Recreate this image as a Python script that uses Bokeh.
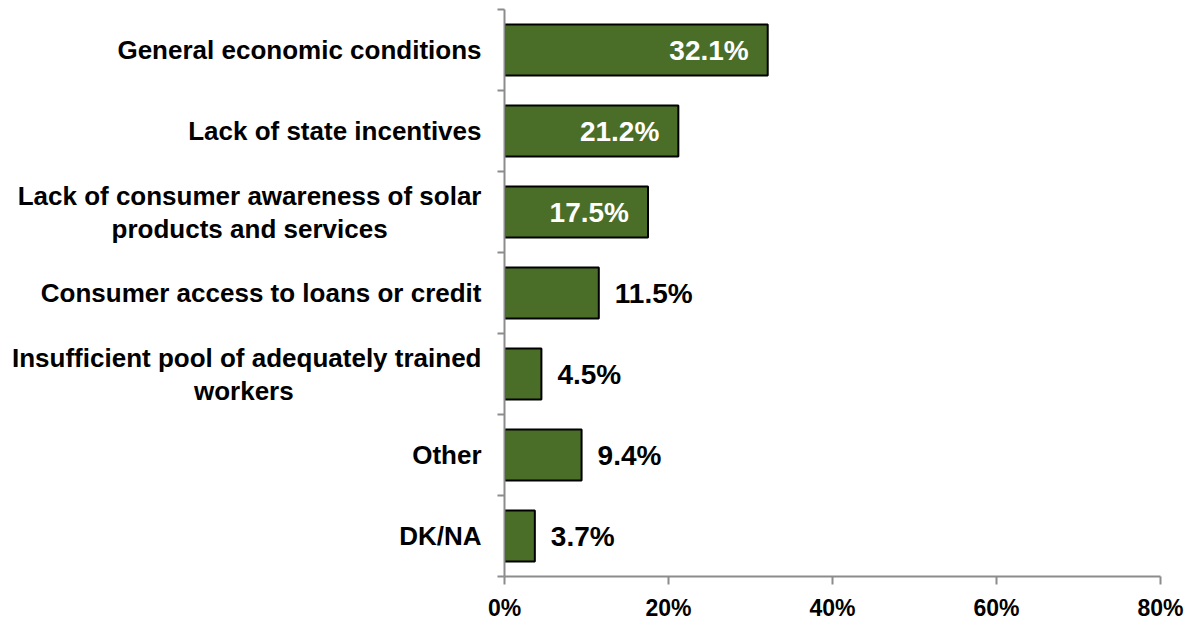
from bokeh.plotting import figure
from bokeh.models import ColumnDataSource, Range1d, FixedTicker, NumeralTickFormatter
from bokeh.core.properties import value
from bokeh.embed import file_html
from bokeh.resources import INLINE

categories = [
    "General economic conditions",
    "Lack of state incentives",
    "Lack of consumer awareness of solar\nproducts and services",
    "Consumer access to loans or credit",
    "Insufficient pool of adequately trained\nworkers",
    "Other",
    "DK/NA",
]
values = [32.1, 21.2, 17.5, 11.5, 4.5, 9.4, 3.7]
x_ticks = [0, 20, 40, 60, 80]

n = len(categories)
ypos = [n - 0.5 - i for i in range(n)]
labels = [f"{v:.1f}%" for v in values]
inside = [v > 15 for v in values]

# approximate advance widths (1/1000 em) of a bold Helvetica-metric font
_W = dict(zip("abcdefghijklmnopqrstuvwxyz",
              [556, 611, 556, 611, 556, 333, 611, 611, 278, 278, 556, 278, 889,
               611, 611, 611, 611, 389, 556, 333, 611, 556, 778, 556, 556, 500]))
_W.update({" ": 278, "L": 611, "I": 278})


def _width(s):
    return sum(_W.get(ch, 722) for ch in s)


def centered(label):
    # Bokeh right-aligns the lines of a left-axis label; pad shorter lines
    # with no-break spaces so that they appear centred under the longest one.
    lines = label.split("\n")
    if len(lines) == 1:
        return label
    longest = max(_width(s) for s in lines)
    return "\n".join(s + "\u00a0" * round((longest - _width(s)) / 2 / 278) for s in lines)


FONT = "Liberation Sans"
GRAY = "#8c8c8c"
GREEN = "#4a6e27"

p = figure(width=1188, height=623, output_backend="svg", toolbar_location=None,
           x_range=Range1d(0, 80), y_range=Range1d(0, n),
           min_border_left=504, min_border_right=28, min_border_top=9, min_border_bottom=45)
p.outline_line_color = None
p.xgrid.grid_line_color = None
p.ygrid.grid_line_color = None

src = ColumnDataSource(dict(y=ypos, v=values, lab=labels))
p.hbar(y="y", left=0, right="v", height=0.63, source=src,
       fill_color=GREEN, line_color="black", line_width=2)

src_in = ColumnDataSource(dict(y=[y for y, k in zip(ypos, inside) if k],
                               v=[v for v, k in zip(values, inside) if k],
                               lab=[l for l, k in zip(labels, inside) if k]))
src_out = ColumnDataSource(dict(y=[y for y, k in zip(ypos, inside) if not k],
                                v=[v for v, k in zip(values, inside) if not k],
                                lab=[l for l, k in zip(labels, inside) if not k]))
p.text(x="v", y="y", text="lab", source=src_in, x_offset=-19, text_align="right",
       text_baseline="middle", text_color="white", text_font=value(FONT),
       text_font_style="bold", text_font_size="28px")
p.text(x="v", y="y", text="lab", source=src_out, x_offset=16, text_align="left",
       text_baseline="middle", text_color="black", text_font=value(FONT),
       text_font_style="bold", text_font_size="28px")

# y axis: labels at centers, boundary ticks as minor ticks
p.yaxis.ticker = FixedTicker(ticks=ypos, minor_ticks=list(range(n + 1)))
p.yaxis.major_label_overrides = {y: centered(c) for y, c in zip(ypos, categories)}
p.yaxis.major_tick_line_color = None
p.yaxis.minor_tick_line_color = GRAY
p.yaxis.minor_tick_line_width = 2
p.yaxis.minor_tick_out = 7
p.yaxis.minor_tick_in = 0
p.yaxis.axis_line_color = GRAY
p.yaxis.axis_line_width = 2
p.yaxis.major_label_text_font = FONT
p.yaxis.major_label_text_font_style = "bold"
p.yaxis.major_label_text_font_size = "26px"
p.yaxis.major_label_text_color = "black"
p.yaxis.major_label_text_line_height = 1.1
p.yaxis.major_label_standoff = 16

p.xaxis.ticker = FixedTicker(ticks=x_ticks)
p.xaxis.formatter = NumeralTickFormatter(format="0")
p.xaxis.major_label_overrides = {t: f"{t}%" for t in x_ticks}
p.xaxis.axis_line_color = GRAY
p.xaxis.axis_line_width = 2
p.xaxis.major_tick_line_color = GRAY
p.xaxis.major_tick_line_width = 2
p.xaxis.major_tick_out = 8
p.xaxis.major_tick_in = 0
p.xaxis.minor_tick_line_color = None
p.xaxis.major_label_text_font = FONT
p.xaxis.major_label_text_font_style = "bold"
p.xaxis.major_label_text_font_size = "23px"
p.xaxis.major_label_text_color = "black"
p.xaxis.major_label_standoff = 10

open("out.html", "w").write(file_html(p, INLINE))
